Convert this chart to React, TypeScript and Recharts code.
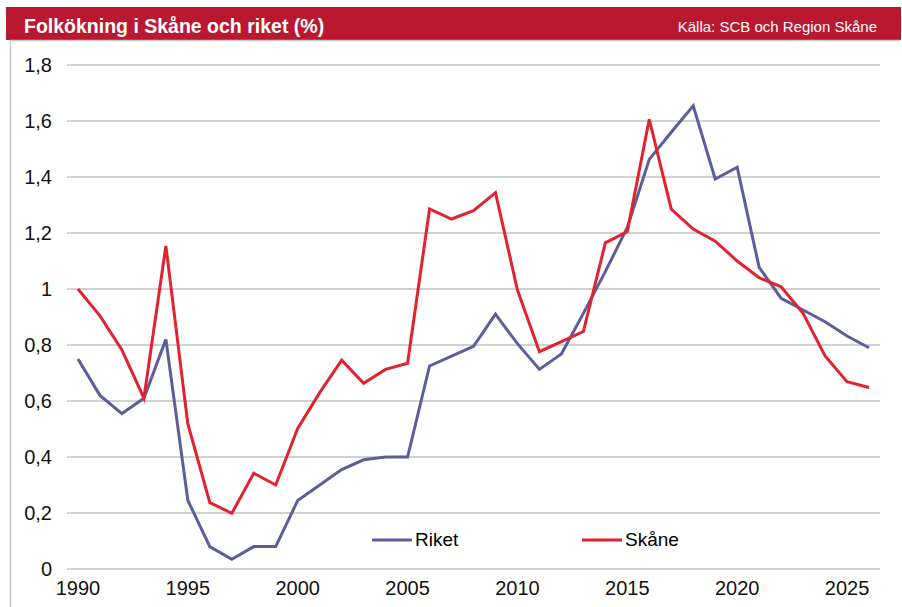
import React from 'react';
import { LineChart, Line, XAxis, YAxis, CartesianGrid, Legend } from 'recharts';

const years = [1990, 1991, 1992, 1993, 1994, 1995, 1996, 1997, 1998, 1999, 2000, 2001, 2002, 2003, 2004, 2005, 2006, 2007, 2008, 2009, 2010, 2011, 2012, 2013, 2014, 2015, 2016, 2017, 2018, 2019, 2020, 2021, 2022, 2023, 2024, 2025, 2026];
const riket = [0.75, 0.62, 0.555, 0.61, 0.82, 0.245, 0.08, 0.035, 0.08, 0.08, 0.245, 0.3, 0.355, 0.39, 0.4, 0.4, 0.725, 0.76, 0.795, 0.91, 0.805, 0.713, 0.768, 0.913, 1.062, 1.22, 1.463, 1.56, 1.654, 1.393, 1.435, 1.077, 0.967, 0.925, 0.883, 0.832, 0.79];
const skane = [1.0, 0.904, 0.782, 0.61, 1.154, 0.518, 0.237, 0.199, 0.342, 0.3, 0.502, 0.63, 0.746, 0.663, 0.713, 0.735, 1.286, 1.25, 1.28, 1.344, 0.996, 0.776, 0.812, 0.848, 1.165, 1.205, 1.606, 1.285, 1.214, 1.171, 1.1, 1.04, 1.008, 0.913, 0.761, 0.669, 0.648];
const xTicks = [1990, 1995, 2000, 2005, 2010, 2015, 2020, 2025];
const yTicks = [0, 0.2, 0.4, 0.6, 0.8, 1, 1.2, 1.4, 1.6, 1.8];
const title = 'Folkökning i Skåne och riket (%)';
const source = 'Källa: SCB och Region Skåne';
const seriesNames = ['Riket', 'Skåne'];

const data = years.map((y, i) => ({ year: y, riket: riket[i], skane: skane[i] }));

const FONT = "'Liberation Sans', Arial, sans-serif";
const RIKET_COLOR = '#5C5E9C';
const SKANE_COLOR = '#E0232F';

const fmtY = (v: number) => (Number.isInteger(v) ? String(v) : v.toFixed(1).replace('.', ','));

const LegendContent = (props: any) => {
  const payload = props.payload || [];
  return (
    <div style={{ display: 'flex', alignItems: 'center', fontFamily: FONT }}>
      {payload.map((e: any, i: number) => (
        <div key={i} style={{ display: 'flex', alignItems: 'center', width: i === 0 ? 210 : 120 }}>
          <svg width={40} height={6} style={{ display: 'block' }}>
            <line x1={0} y1={3} x2={40} y2={3} stroke={e.color} strokeWidth={3} />
          </svg>
          <span style={{ marginLeft: 3, fontSize: 19, color: '#000', lineHeight: '26px' }}>{e.value}</span>
        </div>
      ))}
    </div>
  );
};

export default function App() {
  return (
    <div style={{ position: 'absolute', left: 0, top: 0, width: 902, height: 607, background: '#fff', fontFamily: FONT }}>
      <svg width={902} height={607} style={{ position: 'absolute', left: 0, top: 0 }}>
        <rect x={6} y={7} width={895} height={33} fill="#BA1830" />
        <line x1={10} y1={40.5} x2={900} y2={40.5} stroke="#C8C8C8" strokeWidth={1.5} />
        <line x1={10.5} y1={40} x2={10.5} y2={607} stroke="#C8C8C8" strokeWidth={1.5} />
        <text x={24} y={33} fill="#fff" fontSize={19.5} fontWeight="bold" fontFamily={FONT}>
          {title}
        </text>
        <text x={877} y={32} fill="#fff" fontSize={15} fontFamily={FONT} textAnchor="end">
          {source}
        </text>
      </svg>
      <div style={{ position: 'absolute', left: 0, top: 0 }}>
        <LineChart width={902} height={607} data={data} margin={{ top: 65, right: 22, left: 7, bottom: 8 }}>
          <CartesianGrid vertical={false} stroke="#C2C2C2" strokeWidth={1.5} />
          <XAxis
            dataKey="year"
            type="number"
            domain={[1989.5, 2026.5]}
            ticks={xTicks}
            height={30}
            axisLine={false}
            tickLine={false}
            tickSize={0}
            tickMargin={12}
            interval={0}
            tick={{ fill: '#111', fontSize: 20, fontFamily: FONT }}
          />
          <YAxis
            type="number"
            domain={[0, 1.8]}
            ticks={yTicks}
            width={60}
            axisLine={false}
            tickLine={false}
            tickSize={0}
            tickMargin={15}
            interval={0}
            tickFormatter={fmtY}
            tick={{ fill: '#111', fontSize: 20, fontFamily: FONT }}
          />
          <Legend
            layout="horizontal"
            verticalAlign="middle"
            align="center"
            wrapperStyle={{ left: 372, top: 527, width: 340 }}
            content={<LegendContent />}
          />
          <Line dataKey="riket" name={seriesNames[0]} stroke={RIKET_COLOR} strokeWidth={3} dot={false} isAnimationActive={false} />
          <Line dataKey="skane" name={seriesNames[1]} stroke={SKANE_COLOR} strokeWidth={3} dot={false} isAnimationActive={false} />
        </LineChart>
      </div>
    </div>
  );
}
